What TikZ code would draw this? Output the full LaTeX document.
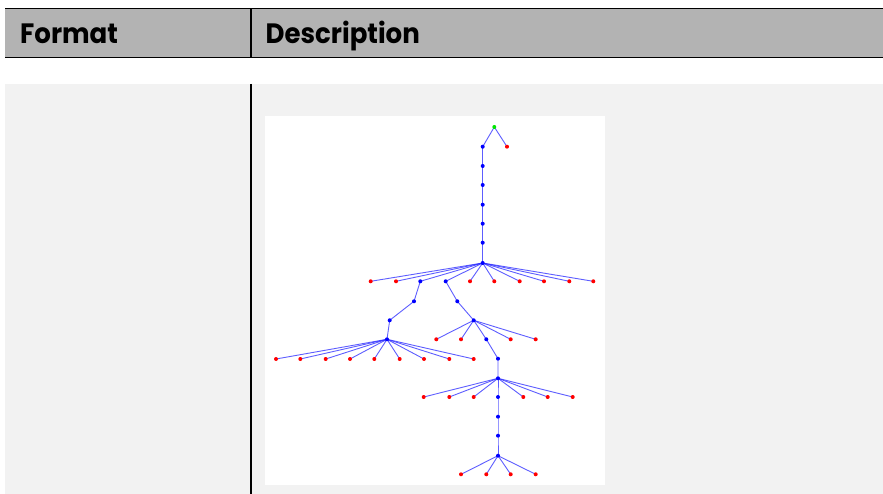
\documentclass[tikz,border=0pt]{standalone}
\usepackage{fontspec}
\setmainfont{Poppins}
\definecolor{hdrgray}{RGB}{179,179,179}
\definecolor{bodygray}{RGB}{242,242,242}
\definecolor{leafred}{RGB}{255,0,0}
\definecolor{rootgreen}{RGB}{0,230,0}
\definecolor{treeblue}{RGB}{40,40,255}
\begin{document}
\begin{tikzpicture}[x=1pt,y=-1pt,
  hdrtext/.style={anchor=base west,inner sep=0pt,font=\fontsize{28}{32}\selectfont\bfseries,xscale=0.93},
  dotnode/.style={circle,inner sep=0pt,minimum size=4pt,draw=none},
  bnode/.style={dotnode,fill=blue},
  rnode/.style={dotnode,fill=leafred},
  gnode/.style={dotnode,fill=rootgreen},
  edge/.style={draw=treeblue,line width=0.9pt,opacity=0.75},
  rule/.style={line width=1.5pt,black}]
\useasboundingbox (0,0) rectangle (883,494);
\fill[white] (0,0) rectangle (883,494);
% header
\fill[hdrgray] (5,9) rectangle (883,57.5);
\draw[rule] (5,8.7) -- (883,8.7);
\draw[rule] (5,57.7) -- (883,57.7);
\draw[rule] (251,9) -- (251,57);
\node[hdrtext] (fmt) at (20,43.5) {Format};
\node[hdrtext] (desc) at (265.5,43.5) {Description};
% body
\fill[bodygray] (5,84) rectangle (883,494);
\draw[line width=2pt,black] (251,84) -- (251,494);
\fill[white] (265,116) rectangle (605,485);
% tree nodes
\coordinate (r) at (494.3,127);
\coordinate (a1) at (482.7,146.7);
\coordinate (l0) at (507,146.7);
\coordinate (a2) at (482.7,166);
\coordinate (a3) at (482.7,185);
\coordinate (a4) at (482.7,204.7);
\coordinate (a5) at (482.7,223.7);
\coordinate (a6) at (482.7,242.7);
\coordinate (h1) at (482.7,263);
\foreach \x [count=\i] in {370.7,396,470,494.3,519.7,544,569.3,593.3}
  \coordinate (p\i) at (\x,281.3);
\coordinate (L1) at (420.3,281.3);
\coordinate (R1) at (445.7,281.3);
\coordinate (L2) at (414,301.3);
\coordinate (L3) at (389.7,320.3);
\coordinate (h2) at (387,339.3);
\foreach \x [count=\i] in {276,300.3,325.7,350,374.3,399.7,424,449.3,473.7}
  \coordinate (q\i) at (\x,359);
\coordinate (R2) at (457.3,301.3);
\coordinate (h3) at (473.7,320.3);
\foreach \x [count=\i] in {436.3,461,510.7,535.7}
  \coordinate (s\i) at (\x,339.3);
\coordinate (R3) at (486.3,339.3);
\coordinate (R4) at (498,358.7);
\coordinate (h4) at (498,378.3);
\foreach \x [count=\i] in {423.7,449.3,473.7,523.3,547.7,572.7}
  \coordinate (t\i) at (\x,397);
\coordinate (R5) at (498,397);
\coordinate (R6) at (498,416.7);
\coordinate (R7) at (498,435.7);
\coordinate (h5) at (498,455.7);
\foreach \x [count=\i] in {461,486.3,510.7,535.7}
  \coordinate (u\i) at (\x,474.3);
% edges
\draw[edge] (r) -- (a1);
\draw[edge] (r) -- (l0);
\draw[edge] (a1) -- (a2) -- (a3) -- (a4) -- (a5) -- (a6) -- (h1);
\foreach \i in {1,...,8} \draw[edge] (h1) -- (p\i);
\draw[edge] (h1) -- (L1);
\draw[edge] (h1) -- (R1);
\draw[edge] (L1) -- (L2) -- (L3) -- (h2);
\foreach \i in {1,...,9} \draw[edge] (h2) -- (q\i);
\draw[edge] (R1) -- (R2) -- (h3);
\foreach \i in {1,...,4} \draw[edge] (h3) -- (s\i);
\draw[edge] (h3) -- (R3) -- (R4) -- (h4);
\foreach \i in {1,...,6} \draw[edge] (h4) -- (t\i);
\draw[edge] (h4) -- (R5) -- (R6) -- (R7) -- (h5);
\foreach \i in {1,...,4} \draw[edge] (h5) -- (u\i);
% dots on top
\node[gnode] (nr) at (r) {};
\foreach \n in {a1,a2,a3,a4,a5,a6,h1,L1,R1,L2,L3,h2,R2,h3,R3,R4,h4,R5,R6,R7,h5}
  \node[bnode] (n\n) at (\n) {};
\node[rnode] (nl0) at (l0) {};
\foreach \i in {1,...,8} \node[rnode] (np\i) at (p\i) {};
\foreach \i in {1,...,9} \node[rnode] (nq\i) at (q\i) {};
\foreach \i in {1,...,4} \node[rnode] (ns\i) at (s\i) {};
\foreach \i in {1,...,6} \node[rnode] (nt\i) at (t\i) {};
\foreach \i in {1,...,4} \node[rnode] (nu\i) at (u\i) {};
\end{tikzpicture}
\end{document}
